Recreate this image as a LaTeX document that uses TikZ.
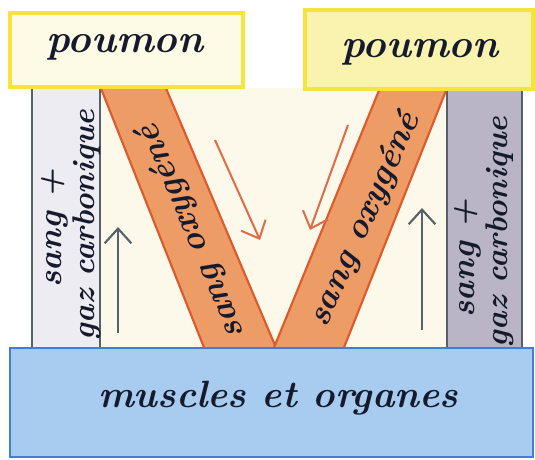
\documentclass[tikz,border=0pt]{standalone}
\usetikzlibrary{arrows.meta}
\definecolor{paper}{HTML}{FFFFFF}
\definecolor{cream}{HTML}{FCF8EA}
\definecolor{lungfillL}{HTML}{FDFBE6}
\definecolor{lungfillR}{HTML}{FAF3B0}
\definecolor{lungline}{HTML}{F6E43C}
\definecolor{bandlight}{HTML}{ECECF2}
\definecolor{banddark}{HTML}{B9B5C6}
\definecolor{bandline}{HTML}{56606A}
\definecolor{orangefill}{HTML}{EE9C66}
\definecolor{orangeline}{HTML}{DC5A2C}
\definecolor{bluefill}{HTML}{A8CCF0}
\definecolor{blueline}{HTML}{3E7ED8}
\definecolor{ink}{HTML}{151A2C}
\definecolor{arrowgray}{HTML}{59626C}
\definecolor{arroworange}{HTML}{DE6C48}
\tikzset{
  hand/.style={text=ink, inner sep=0pt},
  lungbox/.style={draw=lungline, line width=3pt, inner sep=0pt},
  bluebox/.style={draw=blueline, fill=bluefill, line width=2pt, inner sep=0pt},
  oband/.style={fill=orangefill, draw=orangeline, line width=1.6pt, line join=round},
  gline/.style={draw=bandline, line width=2.2pt},
  grayarrow/.style={draw=arrowgray, line width=1.6pt, -{Straight Barb[length=11pt,width=20pt,line width=1.6pt]}},
  orangearrow/.style={draw=arroworange, line width=1.5pt, -{Straight Barb[length=11pt,width=20pt,line width=1.5pt]}}
}
\begin{document}
\begin{tikzpicture}[x=0.75pt,y=-0.75pt]
\useasboundingbox (0,0) rectangle (535,460);
\fill[paper] (0,0) rectangle (535,460);
\fill[cream] (100,88) rectangle (447,348);
% grey vertical bands
\fill[bandlight] (32,86) rectangle (100,350);
\draw[gline] (32,86) -- (32,350);
\draw[gline] (100,86) -- (100,350);
\fill[banddark] (447,88) rectangle (522,350);
\draw[gline] (447,88) -- (447,350);
\draw[gline] (522,88) -- (522,350);
% orange diagonal bands
\draw[oband] (100,86) -- (165,86) -- (277,350) -- (205,350) -- cycle;
\draw[oband] (380,88) -- (447,88) -- (343,350) -- (273,350) -- cycle;
% boxes
\node[lungbox, fill=lungfillL, minimum width=174.75pt, minimum height=55.5pt] (lungL) at (126.5,50) {};
\node[lungbox, fill=lungfillR, minimum width=171pt, minimum height=59.25pt] (lungR) at (419,49.5) {};
\node[bluebox, minimum width=392.25pt, minimum height=81.75pt] (body) at (271.5,402.5) {};
% box labels
\node[hand, font=\fontsize{30}{32}\selectfont\bfseries\itshape] (tlungL) at (125,47) {poumon};
\node[hand, font=\fontsize{30}{32}\selectfont\bfseries\itshape] (tlungR) at (420,52) {poumon};
\node[hand, font=\fontsize{28.5}{30}\selectfont\bfseries\itshape] (tbody) at (278,398) {muscles et organes};
% band labels
\node[hand, font=\fontsize{25}{26}\selectfont\bfseries\itshape, rotate=90] (sangL) at (55,228) {sang +};
\node[hand, font=\fontsize{23.5}{25}\selectfont\bfseries\itshape, rotate=90] (gazL) at (87,225) {gaz carbonique};
\node[hand, font=\fontsize{25}{26}\selectfont\bfseries\itshape, rotate=90] (sangR) at (468,258) {sang +};
\node[hand, font=\fontsize{23.5}{25}\selectfont\bfseries\itshape, rotate=90] (gazR) at (500,232) {gaz carbonique};
\node[hand, font=\fontsize{26}{27}\selectfont\bfseries\itshape, rotate=113] (oxyL) at (192,232) {sang oxygéné};
\node[hand, font=\fontsize{26}{27}\selectfont\bfseries\itshape, rotate=66] (oxyR) at (365,220) {sang oxygéné};
% flow arrows
\coordinate (gaL0) at (118,333);
\coordinate (gaL1) at (118,227);
\coordinate (gaR0) at (422,330);
\coordinate (gaR1) at (422,208);
\coordinate (oaL0) at (215,140);
\coordinate (oaL1) at (260,240);
\coordinate (oaR0) at (348,125);
\coordinate (oaR1) at (310,230);
\draw[grayarrow] (gaL0) -- (gaL1);
\draw[grayarrow] (gaR0) -- (gaR1);
\draw[orangearrow] (oaL0) -- (oaL1);
\draw[orangearrow] (oaR0) -- (oaR1);
\end{tikzpicture}
\end{document}
